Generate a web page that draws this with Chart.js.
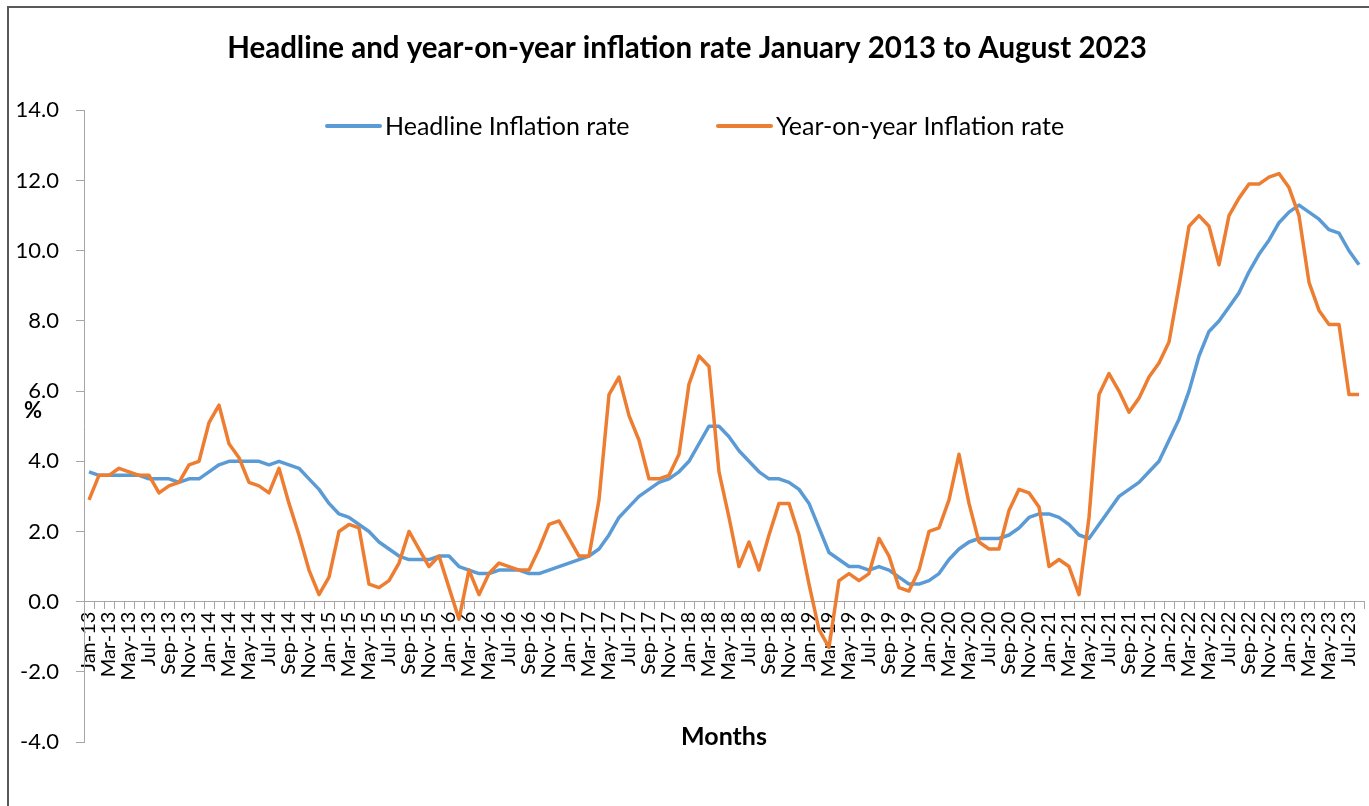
<!DOCTYPE html>
<html>
<head>
<meta charset="utf-8">
<title>Headline and year-on-year inflation rate</title>
<script src="https://cdn.jsdelivr.net/npm/chart.js@4.4.0/dist/chart.umd.min.js"></script>
<style>
  html, body { margin: 0; padding: 0; background: #fff; }
  #wrap { width: 1369px; height: 806px; position: relative; }
</style>
</head>
<body>
<div id="wrap"><canvas id="inflation-chart"></canvas></div>
<script>
// Categories: Jan-13 .. Aug-23
const monthNames = ['Jan', 'Feb', 'Mar', 'Apr', 'May', 'Jun', 'Jul', 'Aug', 'Sep', 'Oct', 'Nov', 'Dec'];
const years = ['13', '14', '15', '16', '17', '18', '19', '20', '21', '22', '23'];
const monthsInLastYear = 8;
const months = [];
years.forEach((yy, y) => {
  monthNames.forEach((m, i) => {
    if (y < years.length - 1 || i < monthsInLastYear) months.push(m + '-' + yy);
  });
});

// Headline inflation rate (%), one row per year
const headline = [
  3.7, 3.6, 3.6, 3.6, 3.6, 3.6, 3.5, 3.5, 3.5, 3.4, 3.5, 3.5,
  3.7, 3.9, 4.0, 4.0, 4.0, 4.0, 3.9, 4.0, 3.9, 3.8, 3.5, 3.2,
  2.8, 2.5, 2.4, 2.2, 2.0, 1.7, 1.5, 1.3, 1.2, 1.2, 1.2, 1.3,
  1.3, 1.0, 0.9, 0.8, 0.8, 0.9, 0.9, 0.9, 0.8, 0.8, 0.9, 1.0,
  1.1, 1.2, 1.3, 1.5, 1.9, 2.4, 2.7, 3.0, 3.2, 3.4, 3.5, 3.7,
  4.0, 4.5, 5.0, 5.0, 4.7, 4.3, 4.0, 3.7, 3.5, 3.5, 3.4, 3.2,
  2.8, 2.1, 1.4, 1.2, 1.0, 1.0, 0.9, 1.0, 0.9, 0.7, 0.5, 0.5,
  0.6, 0.8, 1.2, 1.5, 1.7, 1.8, 1.8, 1.8, 1.9, 2.1, 2.4, 2.5,
  2.5, 2.4, 2.2, 1.9, 1.8, 2.2, 2.6, 3.0, 3.2, 3.4, 3.7, 4.0,
  4.6, 5.2, 6.0, 7.0, 7.7, 8.0, 8.4, 8.8, 9.4, 9.9, 10.3, 10.8,
  11.1, 11.3, 11.1, 10.9, 10.6, 10.5, 10.0, 9.6
];

// Year-on-year inflation rate (%), one row per year
const yearOnYear = [
  2.9, 3.6, 3.6, 3.8, 3.7, 3.6, 3.6, 3.1, 3.3, 3.4, 3.9, 4.0,
  5.1, 5.6, 4.5, 4.1, 3.4, 3.3, 3.1, 3.8, 2.8, 1.9, 0.9, 0.2,
  0.7, 2.0, 2.2, 2.1, 0.5, 0.4, 0.6, 1.1, 2.0, 1.5, 1.0, 1.3,
  0.4, -0.5, 0.9, 0.2, 0.8, 1.1, 1.0, 0.9, 0.9, 1.5, 2.2, 2.3,
  1.8, 1.3, 1.3, 2.9, 5.9, 6.4, 5.3, 4.6, 3.5, 3.5, 3.6, 4.2,
  6.2, 7.0, 6.7, 3.7, 2.4, 1.0, 1.7, 0.9, 1.9, 2.8, 2.8, 1.9,
  0.5, -0.8, -1.3, 0.6, 0.8, 0.6, 0.8, 1.8, 1.3, 0.4, 0.3, 0.9,
  2.0, 2.1, 2.9, 4.2, 2.8, 1.7, 1.5, 1.5, 2.6, 3.2, 3.1, 2.7,
  1.0, 1.2, 1.0, 0.2, 2.4, 5.9, 6.5, 6.0, 5.4, 5.8, 6.4, 6.8,
  7.4, 9.0, 10.7, 11.0, 10.7, 9.6, 11.0, 11.5, 11.9, 11.9, 12.1, 12.2,
  11.8, 11.0, 9.1, 8.3, 7.9, 7.9, 5.9, 5.9
];

const seriesNames = ['Headline Inflation rate', 'Year-on-year Inflation rate'];
const seriesColors = ['#5b9bd5', '#ed7d31'];

const FONT = 'Lato, "Open Sans", sans-serif';
const AXIS_GREY = '#a6a6a6';

// frame round the chart, the "%" label and the legend inside the plot
const chartDecor = {
  id: 'chartDecor',
  beforeDraw(chart) {
    const { ctx } = chart;
    ctx.save();
    ctx.strokeStyle = '#595959';
    ctx.lineWidth = 2;
    ctx.strokeRect(8, 7, chart.width + 20, chart.height + 20);
    ctx.restore();
  },
  afterDraw(chart) {
    const { ctx } = chart;
    ctx.save();
    ctx.fillStyle = '#000';
    ctx.font = 'bold 22px ' + FONT;
    ctx.textAlign = 'center';
    ctx.textBaseline = 'middle';
    ctx.fillText('%', 33, 411);

    // legend
    const legendX = [327, 718];
    const legendY = 126;
    ctx.font = '25px ' + FONT;
    ctx.textAlign = 'left';
    chart.data.datasets.forEach((ds, i) => {
      ctx.strokeStyle = ds.borderColor;
      ctx.lineWidth = 4;
      ctx.lineCap = 'round';
      ctx.beginPath();
      ctx.moveTo(legendX[i], legendY);
      ctx.lineTo(legendX[i] + 53, legendY);
      ctx.stroke();
      ctx.fillText(ds.label, legendX[i] + 58, legendY + 1);
    });
    ctx.restore();
  },
};

const ctx = document.getElementById('inflation-chart');

new Chart(ctx, {
  type: 'line',
  data: {
    labels: months,
    datasets: [
      {
        label: seriesNames[0],
        data: headline,
        borderColor: seriesColors[0],
        backgroundColor: seriesColors[0],
        borderWidth: 3.5,
        pointRadius: 0,
        tension: 0,
        borderJoinStyle: 'round',
        order: 2,
      },
      {
        label: seriesNames[1],
        data: yearOnYear,
        borderColor: seriesColors[1],
        backgroundColor: seriesColors[1],
        borderWidth: 3.5,
        pointRadius: 0,
        tension: 0,
        borderJoinStyle: 'round',
        order: 1,
      },
    ],
  },
  options: {
    responsive: true,
    maintainAspectRatio: false,
    animation: false,
    layout: {
      padding: { top: 7, left: 10, right: 5, bottom: 64 },
    },
    plugins: {
      legend: { display: false },
      tooltip: { enabled: false },
      title: {
        display: true,
        text: 'Headline and year-on-year inflation rate January 2013 to August 2023',
        color: '#000',
        font: { family: FONT, size: 29.5, weight: 'bold' },
        padding: { top: 24, bottom: 44 },
      },
    },
    scales: {
      x: {
        type: 'category',
        position: { y: 0 },
        offset: true,
        grid: {
          display: true,
          drawOnChartArea: false,
          drawTicks: true,
          tickLength: 7,
          color: AXIS_GREY,
          offset: true,
        },
        border: { display: true, color: AXIS_GREY, width: 1 },
        ticks: {
          autoSkip: false,
          maxRotation: 90,
          minRotation: 90,
          padding: 3,
          color: '#000',
          font: { family: FONT, size: 20 },
          callback: (value, index) => (index % 2 ? '' : months[index]),
        },
        title: {
          display: true,
          text: 'Months',
          color: '#000',
          font: { family: FONT, size: 25, weight: 'bold' },
          padding: { top: 0, bottom: -86 },
        },
        afterFit(scale) {
          scale.height = 64;
          scale.paddingLeft = 0;
          scale.paddingRight = 0;
        },
      },
      y: {
        min: -4,
        max: 14,
        grid: {
          display: true,
          drawOnChartArea: false,
          drawTicks: true,
          tickLength: 8,
          color: AXIS_GREY,
        },
        border: { display: true, color: AXIS_GREY, width: 1 },
        ticks: {
          stepSize: 2,
          padding: 17,
          color: '#000',
          font: { family: FONT, size: 22 },
          callback: (value) => value.toFixed(1),
        },
        afterFit(scale) {
          scale.width = 74;
          scale.paddingTop = 0;
          scale.paddingBottom = 0;
        },
      },
    },
  },
  plugins: [chartDecor],
});
</script>
</body>
</html>
